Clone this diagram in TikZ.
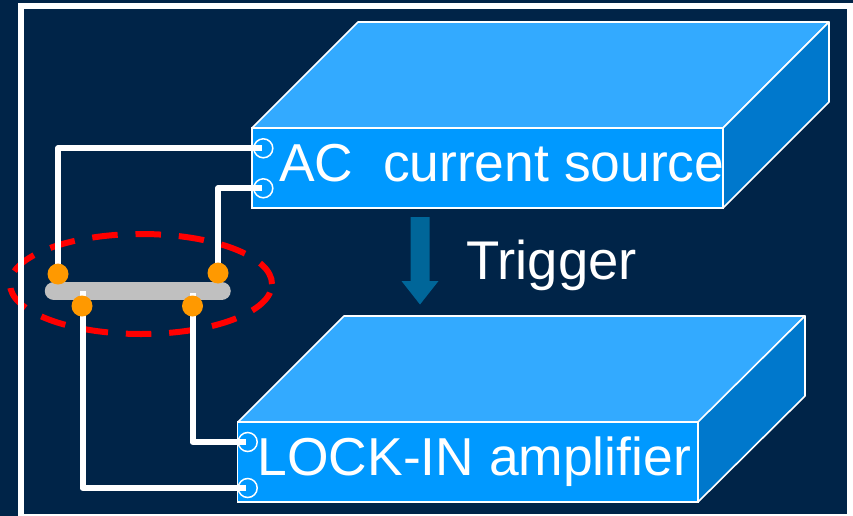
\documentclass[tikz,border=0pt]{standalone}
\usepackage{fontspec}
\setmainfont{Liberation Sans}
\definecolor{navy}{HTML}{002448}
\definecolor{boxfront}{HTML}{0099FF}
\definecolor{boxtop}{HTML}{33AAFF}
\definecolor{boxside}{HTML}{0078CC}
\definecolor{arrowblue}{HTML}{006699}
\definecolor{pad}{HTML}{FF9900}
\definecolor{bar}{HTML}{C0C0C0}
\tikzset{
  x=1pt,y=-1pt,
  frontface/.style={fill=boxfront,draw=white,line width=1.6pt,outer sep=0pt},
  topface/.style={fill=boxtop,draw=white,line width=1.6pt,line join=round},
  sideface/.style={fill=boxside,draw=white,line width=1.6pt,line join=round},
  wire/.style={draw=white,line width=6pt,line join=round},
  port/.style={circle,draw=white,line width=1.5pt,minimum size=19pt,inner sep=0pt},
  contact/.style={circle,fill=pad,minimum size=21pt,inner sep=0pt},
  lbl/.style={text=white,inner sep=0pt,anchor=base west},
  lblbig/.style={lbl,font=\fontsize{53.4}{53}\selectfont},
  lbltrig/.style={lbl,font=\fontsize{54.5}{55}\selectfont},
}
\begin{document}
\begin{tikzpicture}
\useasboundingbox (0,0) rectangle (853,516);
\fill[navy] (0,0) rectangle (853,516);
% highlight ellipse
\draw[red,line width=6pt,dash pattern=on 25.5pt off 17.86pt,dash phase=34.4pt] (141,284) ellipse [x radius=131,y radius=50];
% frame
\draw[white,line width=6pt] (21,6) -- (849.5,6) -- (849.5,517) -- (21,517) -- cycle;
% upper box
\path[topface] (252,128) -- (358,22) -- (829,22) -- (723,128) -- cycle;
\path[sideface] (723,128) -- (829,22) -- (829,102) -- (723,208) -- cycle;
\node[frontface,minimum width=471pt,minimum height=80pt,inner sep=0pt,anchor=north west] (src) at (252,128) {};
% lower box
\path[topface] (238,422) -- (344,316) -- (805,316) -- (699,422) -- cycle;
\path[sideface] (698,422) -- (805,316) -- (805,396) -- (698,502) -- cycle;
\node[frontface,minimum width=460.5pt,minimum height=80pt,inner sep=0pt,anchor=north west] (amp) at (237.5,422) {};
% labels
\node[lblbig] (srclabel) at (279,181) {AC\ \ current source};
\node[lblbig] (amplabel) at (257.5,475.5) {LOCK-IN amplifier};
\node[lbltrig] (trigger) at (466,279) {Trigger};
% trigger arrow
\coordinate (arrtip) at (420,304.5);
\fill[arrowblue] (410.7,217) -- (429.7,217) -- (429.7,281) -- (438.5,281) -- (arrtip) -- (401.5,281) -- (410.7,281) -- cycle;
% ports
\node[port] (p1) at (263.3,148.3) {};
\node[port] (p2) at (263.3,188.3) {};
\node[port] (p3) at (247.7,442) {};
\node[port] (p4) at (247.7,488) {};
% sample bar
\draw[bar,line width=18.5pt,line cap=round] (54,291) -- (221.5,291);
% contacts
\coordinate (c1) at (58,274);
\coordinate (c2) at (218,273);
\coordinate (c3) at (82,306);
\coordinate (c4) at (192.5,306);
% wires
\draw[wire,shorten <=1.5pt] (p1.center) -- (58,148.3) -- (c1);
\draw[wire,shorten <=1.5pt] (p2.center) -- (218,188.3) -- (c2);
\draw[wire,shorten <=1.5pt] (p3.center) -- (192.5,442) -- (c4) -- (192.5,293);
\draw[wire,shorten <=1.5pt] (p4.center) -- (82.5,488) -- (82.5,306) -- (82.5,291);
\node[contact] at (c1) {};
\node[contact] at (c2) {};
\node[contact] at (c3) {};
\node[contact] at (c4) {};
\end{tikzpicture}
\end{document}
